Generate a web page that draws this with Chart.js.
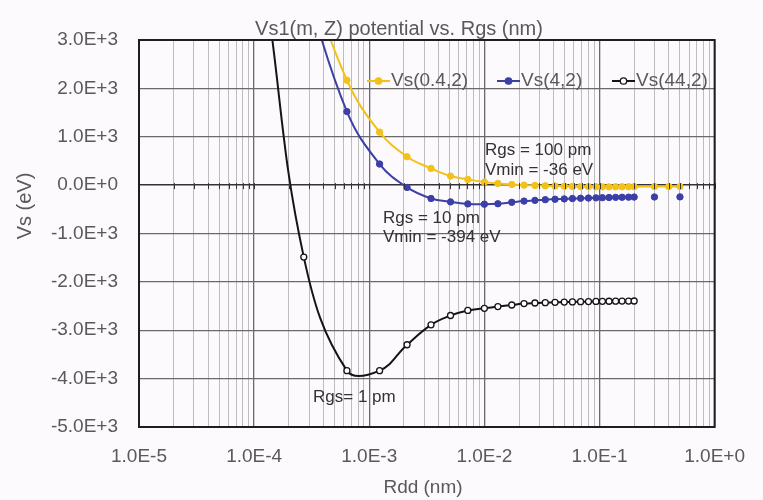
<!DOCTYPE html>
<html>
<head>
<meta charset="utf-8">
<script src="https://cdn.jsdelivr.net/npm/chart.js@4.4.0/dist/chart.umd.min.js"></script>
<style>
    html, body { margin: 0; padding: 0; background: #fcfafc; }
    #wrap { width: 763px; height: 500px; position: relative; }
</style>
</head>
<body>
<div id="wrap"><canvas id="chart"></canvas></div>
<script>
// Rdd (nm) positions
const rddYellow = [2.7e-4, 6.4e-4, 1.23e-3, 2.13e-3, 3.44e-3, 5.08e-3, 7.18e-3, 1.0e-2, 1.31e-2, 1.73e-2,
    2.21e-2, 2.75e-2, 3.38e-2, 4.11e-2, 4.94e-2, 5.82e-2, 6.85e-2, 8.02e-2, 9.32e-2, 0.106,
    0.121, 0.138, 0.157, 0.179, 0.2, 0.3, 0.4, 0.5];
const rddBlue = [2.7e-4, 6.4e-4, 1.23e-3, 2.13e-3, 3.44e-3, 5.08e-3, 7.18e-3, 1.0e-2, 1.31e-2, 1.73e-2,
    2.21e-2, 2.75e-2, 3.38e-2, 4.11e-2, 4.94e-2, 5.82e-2, 6.85e-2, 8.02e-2, 9.32e-2, 0.106,
    0.121, 0.138, 0.157, 0.179, 0.2, 0.3, 0.5];
const rddBlack = [1.3e-4, 2.7e-4, 6.4e-4, 1.23e-3, 2.13e-3, 3.44e-3, 5.08e-3, 7.18e-3, 1.0e-2, 1.31e-2,
    1.73e-2, 2.21e-2, 2.75e-2, 3.38e-2, 4.11e-2, 4.94e-2, 5.82e-2, 6.85e-2, 8.02e-2, 9.32e-2,
    0.106, 0.121, 0.138, 0.157, 0.179, 0.2];

// Vs (eV) values
const vsYellow = [4600, 2168, 1095, 587, 346, 187, 118, 62, 35, 14,
    0, -7, -13, -18, -22, -26, -30, -33, -35, -36,
    -36, -35, -34, -33, -32, -30, -29, -28];
const vsBlue = [4200, 1520, 436, -48, -276, -346, -388, -394, -385, -355,
    -330, -315, -300, -292, -285, -278, -272, -267, -263, -259,
    -256, -253, -251, -249, -247, -245, -243];
const vsBlack = [3800, -1488, -3835, -3835, -3300, -2888, -2695, -2590, -2547, -2511,
    -2478, -2449, -2437, -2429, -2422, -2418, -2414, -2410, -2407, -2404,
    -2402, -2400, -2398, -2397, -2396, -2395];

const seriesNames = ['Vs(0.4,2)', 'Vs(4,2)', 'Vs(44,2)'];

// Axis ticks
const xMajorTicks = [1e-5, 1e-4, 1e-3, 1e-2, 1e-1, 1e0];
const xTickLabels = ['1.0E-5', '1.0E-4', '1.0E-3', '1.0E-2', '1.0E-1', '1.0E+0'];
const yTicks = [3000, 2000, 1000, 0, -1000, -2000, -3000, -4000, -5000];
const yTickLabels = ['3.0E+3', '2.0E+3', '1.0E+3', '0.0E+0', '-1.0E+3', '-2.0E+3', '-3.0E+3', '-4.0E+3', '-5.0E+3'];

// Colours
const yellow = '#f2c21a';
const blue = '#3b3fa6';
const black = '#151515';
const textGrey = '#595959';
const FONT = "'Liberation Sans', Arial, sans-serif";

// minor ticks 1..9 of every decade
const xAllTicks = [];
xMajorTicks.forEach((m, i) => {
    if (i === xMajorTicks.length - 1) { xAllTicks.push(m); return; }
    for (let k = 1; k <= 9; k++) xAllTicks.push(+(m * k).toPrecision(3));
});

function toPoints(xs, ys) {
    return xs.map((x, i) => ({ x: x, y: ys[i] }));
}

// Title, frame, legend and notes
const overlay = {
    id: 'overlay',
    afterDraw(chart) {
        const { ctx, chartArea: a, scales } = chart;
        ctx.save();

        // zero line with small ticks
        const y0 = scales.y.getPixelForValue(0);
        ctx.strokeStyle = '#333';
        ctx.lineWidth = 1;
        xAllTicks.forEach(v => {
            const px = Math.round(scales.x.getPixelForValue(v)) + 0.5;
            ctx.beginPath();
            ctx.moveTo(px, y0 - 2);
            ctx.lineTo(px, y0 + 4);
            ctx.stroke();
        });

        // plot frame
        ctx.strokeStyle = '#1e1e1e';
        ctx.lineWidth = 2;
        ctx.strokeRect(a.left, a.top, a.right - a.left, a.bottom - a.top);

        // title and axis titles
        ctx.fillStyle = textGrey;
        ctx.textAlign = 'center';
        ctx.textBaseline = 'middle';
        ctx.font = '20px ' + FONT;
        ctx.fillText('Vs1(m, Z) potential vs. Rgs (nm)', 399, 29);
        ctx.font = '19px ' + FONT;
        ctx.fillText('Rdd (nm)', 423, 488);
        ctx.save();
        ctx.translate(25, 206);
        ctx.rotate(-Math.PI / 2);
        ctx.font = '20px ' + FONT;
        ctx.fillText('Vs (eV)', 0, 0);
        ctx.restore();

        // legend
        const items = [
            { x: 367, color: yellow, fill: yellow },
            { x: 497, color: blue, fill: blue },
            { x: 612, color: black, fill: '#ffffff' }
        ];
        ctx.font = '19px ' + FONT;
        ctx.textAlign = 'left';
        items.forEach((it, i) => {
            const ly = 81;
            ctx.strokeStyle = it.color;
            ctx.lineWidth = 2;
            ctx.beginPath();
            ctx.moveTo(it.x, ly);
            ctx.lineTo(it.x + 23, ly);
            ctx.stroke();
            ctx.beginPath();
            ctx.arc(it.x + 11.5, ly, 3.2, 0, Math.PI * 2);
            ctx.fillStyle = it.fill;
            ctx.fill();
            ctx.lineWidth = 1.3;
            ctx.stroke();
            ctx.fillStyle = textGrey;
            ctx.fillText(seriesNames[i], it.x + 24, ly);
        });

        // notes
        ctx.fillStyle = '#333';
        ctx.font = '17px ' + FONT;
        ctx.fillText('Rgs = 100 pm', 485, 150);
        ctx.fillText('Vmin = -36 eV', 485, 170);
        ctx.fillText('Rgs = 10 pm', 383, 218);
        ctx.fillText('Vmin = -394 eV', 383, 237);
        ctx.fillText('Rgs= 1 pm', 313, 397);

        ctx.restore();
    }
};

const chart = new Chart(document.getElementById('chart'), {
    type: 'line',
    data: {
        datasets: [
            {
                label: seriesNames[0],
                data: toPoints(rddYellow, vsYellow),
                borderColor: yellow,
                backgroundColor: yellow,
                borderWidth: 2,
                pointRadius: 3.2,
                pointBorderWidth: 1,
                tension: 0.4
            },
            {
                label: seriesNames[1],
                data: toPoints(rddBlue, vsBlue),
                borderColor: blue,
                backgroundColor: blue,
                borderWidth: 2,
                pointRadius: 3.2,
                pointBorderWidth: 1,
                tension: 0.4,
                segment: {
                    // last two points stand alone
                    borderColor: ctx => ctx.p1DataIndex >= rddBlue.length - 2 ? 'rgba(0,0,0,0)' : blue
                }
            },
            {
                label: seriesNames[2],
                data: toPoints(rddBlack, vsBlack),
                borderColor: black,
                backgroundColor: '#ffffff',
                borderWidth: 2,
                pointRadius: 3,
                pointBorderWidth: 1.3,
                tension: 0.4
            }
        ]
    },
    options: {
        responsive: true,
        maintainAspectRatio: false,
        animation: false,
        layout: { padding: { left: 0, right: 37, top: 40, bottom: 0 } },
        plugins: {
            legend: { display: false },
            title: { display: false },
            tooltip: { enabled: false }
        },
        scales: {
            x: {
                type: 'logarithmic',
                min: 1e-5,
                max: 1,
                afterBuildTicks: scale => {
                    scale.ticks = xAllTicks.map(v => ({ value: v, major: xMajorTicks.includes(v) }));
                },
                afterFit: scale => { scale.height = 73; },
                ticks: {
                    autoSkip: false,
                    maxRotation: 0,
                    padding: 18,
                    color: textGrey,
                    font: { family: FONT, size: 19 },
                    callback: v => {
                        const i = xMajorTicks.indexOf(v);
                        return i >= 0 ? xTickLabels[i] : '';
                    }
                },
                grid: {
                    drawTicks: false,
                    color: ctx => (ctx.tick && xMajorTicks.includes(ctx.tick.value)) ? '#6a6a6a' : '#bdbdbd',
                    lineWidth: ctx => (ctx.tick && xMajorTicks.includes(ctx.tick.value)) ? 1.3 : 1
                },
                border: { display: false }
            },
            y: {
                type: 'linear',
                min: -5000,
                max: 3000,
                afterBuildTicks: scale => {
                    scale.ticks = yTicks.map(v => ({ value: v }));
                },
                afterFit: scale => { scale.width = 139; },
                ticks: {
                    autoSkip: false,
                    padding: 21,
                    color: textGrey,
                    font: { family: FONT, size: 19 },
                    callback: v => yTickLabels[yTicks.indexOf(v)]
                },
                grid: {
                    drawTicks: false,
                    color: ctx => (ctx.tick && ctx.tick.value === 0) ? '#333333' : '#6a6a6a',
                    lineWidth: ctx => (ctx.tick && ctx.tick.value === 0) ? 1.5 : 1.2
                },
                border: { display: false }
            }
        }
    },
    plugins: [overlay]
});
</script>
</body>
</html>
